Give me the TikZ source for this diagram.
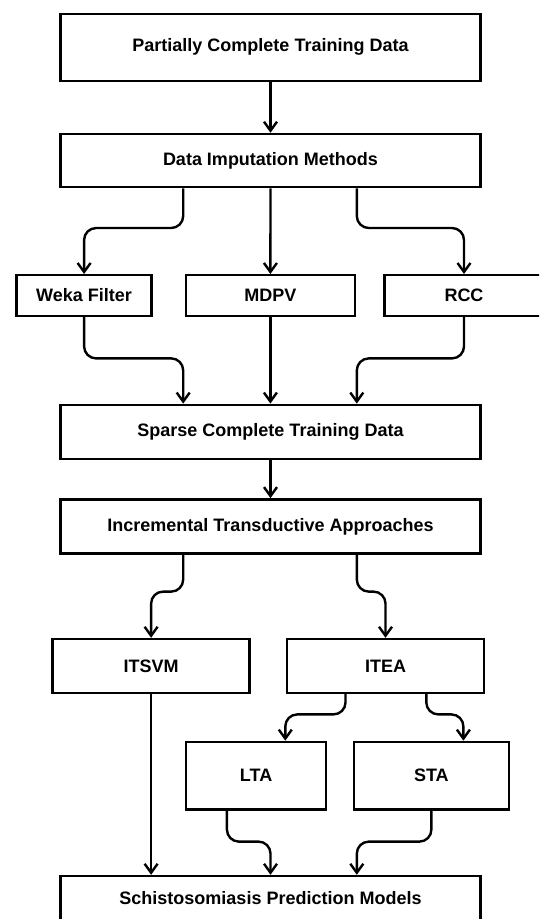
\documentclass[tikz,border=0pt]{standalone}
\usepackage{fontspec}
\setmainfont{Liberation Sans}
\usetikzlibrary{arrows.meta,calc}

\begin{document}
\begin{tikzpicture}[x=1pt,y=1pt,
  box/.style={draw=black, line width=2.4pt, fill=white, inner sep=0pt,
    font=\fontsize{18}{20}\selectfont\bfseries, text=black},
  conn/.style={draw=black, line width=2.4pt, rounded corners=12pt,
    -{Straight Barb[length=9pt,width=13pt,line width=2.4pt]}}]

\clip (0,0) rectangle (539,-919);
\fill[white] (0,0) rectangle (539,-919);

% main column
\node[box, minimum width=420pt, minimum height=67pt]   (b1) at (270.5,-47.25) {Partially Complete Training Data};
\node[box, minimum width=420pt, minimum height=53.3pt] (b2) at (270.5,-160.6) {Data Imputation Methods};

% imputation methods
\node[box, minimum width=135pt,   minimum height=40.6pt] (weka) at (84.1,-295.5) {Weka Filter};
\node[box, minimum width=169pt,   minimum height=40.6pt] (mdpv) at (270.4,-295.5) {MDPV};
\node[box, minimum width=159.4pt, minimum height=40.6pt] (rcc)  at (464,-295.5)  {RCC};

\node[box, minimum width=420pt, minimum height=54.4pt] (b4) at (270.5,-432) {Sparse Complete Training Data};
\node[box, minimum width=420pt, minimum height=54.3pt] (b5) at (270.5,-526.5) {Incremental Transductive Approaches};

% transductive approaches
\node[box, minimum width=197pt, minimum height=54pt] (itsvm) at (151.1,-666) {ITSVM};
\node[box, minimum width=197pt, minimum height=54pt] (itea)  at (385.5,-666) {ITEA};

\node[box, minimum width=140.2pt, minimum height=67.7pt] (lta) at (256.1,-775.7) {LTA};
\node[box, minimum width=154.8pt, minimum height=67.7pt] (sta) at (431.4,-775.7) {STA};

\node[box, minimum width=420pt, minimum height=44pt] (b8) at (270.5,-898) {Schistosomiasis Prediction Models};

% branch and merge levels
\coordinate (h1) at (0,-228);
\coordinate (h2) at (0,-358.4);
\coordinate (h3) at (0,-591.6);
\coordinate (h4) at (0,-714.4);
\coordinate (h5) at (0,-841.6);

% attachment points off the box centres
\coordinate (b2l) at ($(b2.south)+(-87.3,0)$);
\coordinate (b2r) at ($(b2.south)+(86.3,0)$);
\coordinate (b4l) at ($(b4.north)+(-87.3,0)$);
\coordinate (b4r) at ($(b4.north)+(86.3,0)$);
\coordinate (b5l) at ($(b5.south)+(-87.3,0)$);
\coordinate (b5r) at ($(b5.south)+(86.3,0)$);
\coordinate (ital) at ($(itea.south)+(-40,0)$);
\coordinate (itar) at ($(itea.south)+(40.8,0)$);
\coordinate (ltain) at ($(lta.north)+(29.2,0)$);
\coordinate (stain) at ($(sta.north)+(32,0)$);
\coordinate (ltaout) at ($(lta.south)+(-29.2,0)$);
\coordinate (b8sv) at (itsvm.south |- b8.north);
\coordinate (b8r) at (b4r |- b8.north);

% connectors
\draw[conn] (b1) -- (b2);
\draw[conn] (b2l) -- (b2l |- h1) -| (weka.north);
\draw[conn] (b2.south) -- (mdpv.north);
\draw[conn] (b2r) -- (b2r |- h1) -| (rcc.north);

\draw[conn] (weka.south) -- (weka.south |- h2) -| (b4l);
\draw[conn] (mdpv.south) -- (mdpv.south |- b4.north);
\draw[conn] (rcc.south) -- (rcc.south |- h2) -| (b4r);

\draw[conn] (b4) -- (b5);
\draw[conn] (b5l) -- (b5l |- h3) -| (itsvm.north);
\draw[conn] (b5r) -- (b5r |- h3) -| (itea.north);

\draw[conn] (itsvm.south) -- (b8sv);
\draw[conn] (ital) -- (ital |- h4) -| (ltain);
\draw[conn] (itar) -- (itar |- h4) -| (stain);
\draw[conn] (ltaout) -- (ltaout |- h5) -| (b8.north);
\draw[conn] (sta.south) -- (sta.south |- h5) -| (b8r);

\end{tikzpicture}
\end{document}
